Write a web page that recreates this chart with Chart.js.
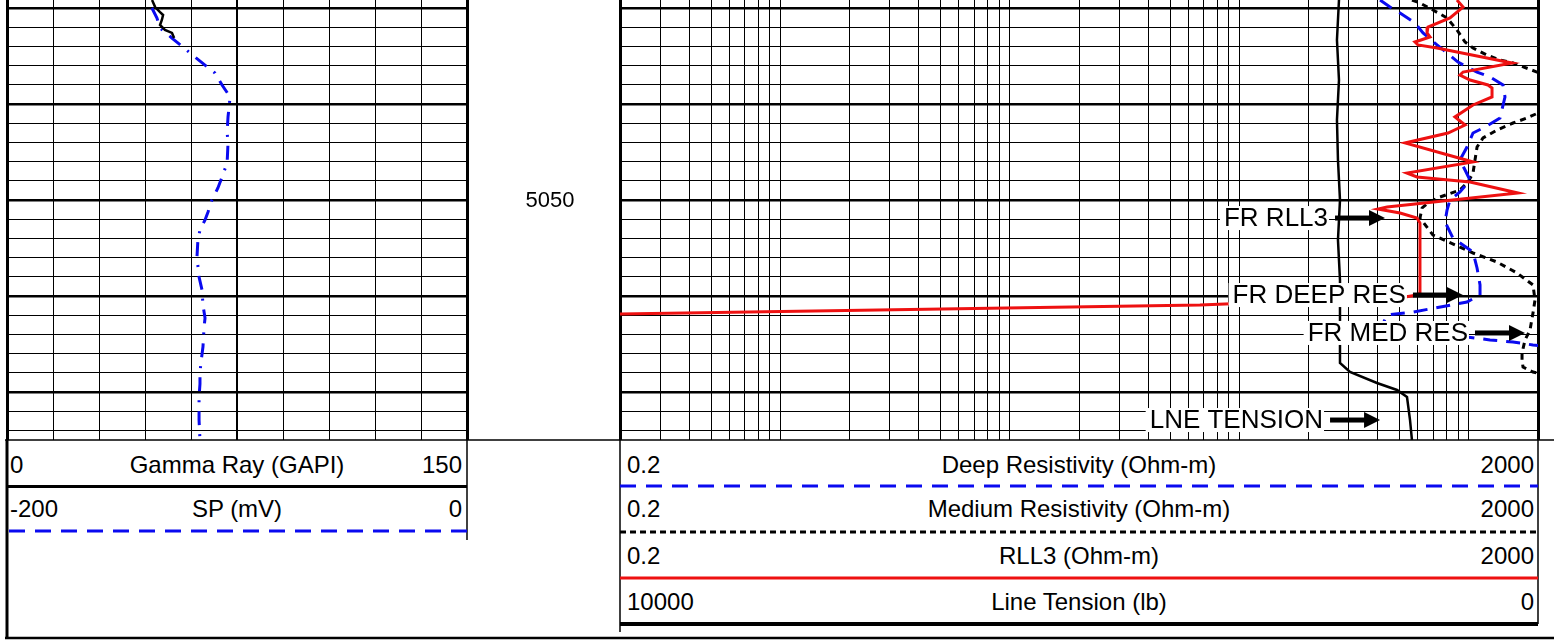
<!DOCTYPE html>
<html>
<head>
    <meta charset="UTF-8">
    <title>Log plot</title>
    <script src="https://cdn.jsdelivr.net/npm/chart.js@4.4.1/dist/chart.umd.min.js" type="text/javascript"></script>
    <style>
        body { margin: 0; background: #fff; }
        #page { position: relative; width: 1554px; height: 640px; overflow: hidden; font-family: "Liberation Sans", Arial, sans-serif; }
        .box { position: absolute; }
        .txt { position: absolute; font-size: 24px; line-height: 24px; color: #000; white-space: nowrap; }
        .c { text-align: center; }
    </style>
</head>
<body>
<div id="page">
    <svg class="box" style="left:0;top:0" width="1554" height="640">
        <line x1="5" y1="440" x2="1554" y2="440" stroke="#000" stroke-width="1.5" />
        <line x1="7" y1="440" x2="7" y2="639" stroke="#000" stroke-width="3" />
        <line x1="467" y1="440" x2="467" y2="540" stroke="#000" stroke-width="1.5" />
        <line x1="7" y1="486.5" x2="467" y2="486.5" stroke="#000" stroke-width="3" />
        <line x1="9" y1="531" x2="467" y2="531" stroke="#0a0af0" stroke-width="3" stroke-dasharray="16 10" />
        <line x1="5" y1="638" x2="1554" y2="638" stroke="#000" stroke-width="2.5" />
        <line x1="620" y1="440" x2="620" y2="632" stroke="#000" stroke-width="1.5" />
        <line x1="1538" y1="440" x2="1538" y2="624" stroke="#000" stroke-width="1.5" />
        <line x1="620" y1="486" x2="1538" y2="486" stroke="#0a0af0" stroke-width="3" stroke-dasharray="16 10" />
        <line x1="620" y1="532" x2="1538" y2="532" stroke="#000" stroke-width="3" stroke-dasharray="6 4" />
        <line x1="620" y1="578" x2="1538" y2="578" stroke="#ee1111" stroke-width="3" />
        <line x1="620" y1="624" x2="1538" y2="624" stroke="#000" stroke-width="4" />
    </svg>

    <div class="box" style="left:5px;top:0;width:615px;height:442px"><canvas id="leftTrack"></canvas></div>
    <div class="box" style="left:618px;top:0;width:922px;height:442px"><canvas id="rightTrack"></canvas></div>

    <div class="txt" style="left:10px;top:453px">0</div>
    <div class="txt c" style="left:87px;width:300px;top:453px">Gamma Ray (GAPI)</div>
    <div class="txt" style="right:1092px;top:453px">150</div>
    <div class="txt" style="left:10px;top:497px">-200</div>
    <div class="txt c" style="left:87px;width:300px;top:497px">SP (mV)</div>
    <div class="txt" style="right:1092px;top:497px">0</div>

    <div class="txt" style="left:627px;top:453px">0.2</div>
    <div class="txt c" style="left:879px;width:400px;top:453px">Deep Resistivity (Ohm-m)</div>
    <div class="txt" style="right:20px;top:453px">2000</div>
    <div class="txt" style="left:627px;top:497px">0.2</div>
    <div class="txt c" style="left:879px;width:400px;top:497px">Medium Resistivity (Ohm-m)</div>
    <div class="txt" style="right:20px;top:497px">2000</div>
    <div class="txt" style="left:627px;top:544px">0.2</div>
    <div class="txt c" style="left:879px;width:400px;top:544px">RLL3 (Ohm-m)</div>
    <div class="txt" style="right:20px;top:544px">2000</div>
    <div class="txt" style="left:627px;top:590px">10000</div>
    <div class="txt c" style="left:879px;width:400px;top:590px">Line Tension (lb)</div>
    <div class="txt" style="right:20px;top:590px">0</div>
</div>
<script>
    var grDepth = [5029.17, 5029.90, 5030.42, 5030.73, 5031.25, 5031.77, 5032.29, 5032.60, 5033.13];
    var grValue = [47.3, 48.3, 49.9, 50.9, 50.5, 49.9, 51.5, 53.8, 54.5];

    var spDepth = [5030.00, 5031.04, 5032.08, 5033.13, 5034.06, 5035.10, 5036.77, 5038.02, 5039.27, 5040.42,
                   5041.35, 5042.92, 5044.06, 5046.15, 5047.60, 5048.75, 5050.00, 5051.25, 5052.08, 5053.13,
                   5054.17, 5055.94, 5058.02, 5059.38, 5060.94, 5062.29, 5063.23, 5065.31, 5066.98, 5068.02,
                   5069.17, 5070.52, 5072.92, 5075.00];
    var spValue = [-137.0, -134.8, -133.5, -128.3, -123.5, -118.3, -109.6, -106.5, -103.0, -103.5,
                   -103.9, -104.3, -103.9, -104.3, -106.5, -108.3, -110.9, -112.6, -113.9, -116.1,
                   -117.0, -117.4, -116.5, -115.2, -114.8, -113.9, -114.3, -114.8, -115.7, -116.1,
                   -116.1, -116.5, -116.5, -116.1];

    var deepDepth = [5029.17, 5029.90, 5030.52, 5031.56, 5032.60, 5033.85, 5034.69, 5035.63, 5036.15, 5036.67,
                     5037.19, 5038.02, 5039.27, 5041.46, 5042.40, 5043.02, 5044.48, 5045.83, 5046.88, 5047.92,
                     5049.17, 5050.00, 5051.04, 5052.29, 5053.96, 5055.42, 5057.08, 5058.85, 5059.90, 5060.63,
                     5061.67, 5061.98, 5063.54, 5064.27, 5064.58, 5064.79, 5065.10, 5065.42];
    var deepValue = [410, 453, 501, 582, 631, 726, 803, 896, 981, 1085,
                     1236, 1408, 1436, 1366, 1175, 1042, 981, 914, 962, 1011,
                     914, 827, 803, 787, 852, 1042, 1085, 1118, 1118, 981,
                     571, 440, 410, 981, 1236, 1557, 1902, 2494];

    var medDepth = [5029.17, 5029.48, 5030.21, 5031.04, 5032.29, 5033.54, 5034.17, 5034.90, 5035.42, 5035.73,
                    5036.67, 5037.50, 5040.10, 5040.94, 5041.46, 5041.98, 5042.71, 5043.54, 5044.48, 5045.83,
                    5047.19, 5048.13, 5048.96, 5049.69, 5050.31, 5050.83, 5051.88, 5053.65, 5055.52, 5056.46,
                    5057.60, 5058.85, 5060.42, 5061.77, 5063.54, 5064.58, 5065.94, 5066.67, 5067.40, 5067.92,
                    5068.54];
    var medValue = [565, 612, 697, 803, 887, 962, 1042, 1199, 1366, 1557,
                    1980, 2600, 2600, 2000, 1792, 1557, 1326, 1152, 1085, 1063,
                    1042, 991, 914, 748, 663, 625, 612, 697, 1042, 1326,
                    1620, 1902, 1941, 1902, 1846, 1756, 1704, 1704, 1721, 1902,
                    2600];

    var rllDepth = [5029.17, 5029.90, 5031.04, 5031.98, 5032.60, 5033.02, 5033.54, 5033.85, 5034.17, 5035.63,
                    5035.73, 5036.67, 5036.98, 5037.50, 5038.02, 5038.33, 5039.27, 5040.10, 5041.35, 5042.19,
                    5043.02, 5044.06, 5046.04, 5047.19, 5047.60, 5048.13, 5049.27, 5050.73, 5050.94, 5051.35,
                    5051.88, 5052.40, 5058.85, 5059.69, 5059.90, 5060.10, 5060.83, 5060.94, 5061.88];
    var rllValue = [887, 943, 827, 663, 657, 677, 582, 600, 726, 1465,
                    1541, 943, 914, 1011, 1211, 1261, 1261, 1042, 869, 962,
                    811, 527, 1042, 537, 594, 1011, 1636, 440, 402, 501,
                    594, 612, 612, 612, 594, 527, 86.5, 67.3, 0.2];

    var tensDepth = [5029.17, 5033.33, 5037.50, 5041.67, 5045.83, 5050.00, 5054.17, 5058.33, 5062.50, 5066.98,
                     5067.92, 5069.06, 5069.79, 5070.52, 5072.92, 5075.00];
    var tensValue = [2168, 2190, 2168, 2190, 2179, 2157, 2179, 2157, 2157, 2157,
                     2048, 1754, 1536, 1427, 1394, 1373];

    var flagText = ["FR RLL3", "FR DEEP RES", "FR MED RES", "LNE TENSION"];
    var flagDepth = [5051.88, 5059.90, 5063.85, 5072.92];
    var flagTip = [431, 942, 1755, 410];

    var depthMarks = [5050];
    var resGrid = [0.2, 0.3, 0.4, 0.5, 0.6, 0.7, 0.8, 0.9, 1, 2, 3, 4, 5, 6, 7, 8, 9, 10, 20, 30, 40, 50, 60, 70, 80, 90,
                   100, 200, 300, 400, 500, 600, 700, 800, 900, 1000, 2000];

    var topDepth = 5029.1667;
    var bottomDepth = 5075;
    var depthGrid = [];
    for (var d = 5030; d <= 5074; d += 2) depthGrid.push(d);

    function pts(depths, values) {
        return depths.map(function (d, i) { return { x: values[i], y: d }; });
    }

    var FONT = '"Liberation Sans", Arial, sans-serif';
    var BLUE = '#0a0af0';
    var RED = '#ee1111';

    function depthAxis() {
        return {
            type: 'linear', reverse: true, min: topDepth, max: bottomDepth,
            ticks: { display: false },
            border: { display: false },
            grid: {
                color: '#000', drawTicks: false,
                lineWidth: function (c) { return c.tick && c.tick.value % 10 === 0 ? 2.5 : 1; }
            },
            afterBuildTicks: function (s) { s.ticks = depthGrid.map(function (v) { return { value: v }; }); },
            afterFit: function (s) { s.width = 0; }
        };
    }

    function hiddenAxis(min, max, rev) {
        return { type: 'linear', display: false, min: min, max: max, reverse: rev };
    }

    var depthLabelPlugin = {
        id: 'depthLabels',
        afterDraw: function (chart) {
            var ctx = chart.ctx, ys = chart.scales.y;
            ctx.save();
            ctx.font = '22px ' + FONT;
            ctx.fillStyle = '#000';
            ctx.textAlign = 'center';
            ctx.textBaseline = 'middle';
            depthMarks.forEach(function (d) {
                ctx.fillText(String(d), chart.chartArea.right + 83, ys.getPixelForValue(d) + 1);
            });
            ctx.restore();
        }
    };

    var flagPlugin = {
        id: 'flags',
        afterDatasetsDraw: function (chart) {
            var ctx = chart.ctx, xs = chart.scales.x, ys = chart.scales.y;
            ctx.save();
            ctx.font = '26px ' + FONT;
            ctx.textBaseline = 'middle';
            ctx.textAlign = 'right';
            for (var i = 0; i < flagText.length; i++) {
                var tip = xs.getPixelForValue(flagTip[i]);
                var y = ys.getPixelForValue(flagDepth[i]);
                var start = tip - 50;
                var right = start - 7;
                var w = ctx.measureText(flagText[i]).width;
                ctx.fillStyle = '#fff';
                ctx.fillRect(right - w - 4, y - 12, w + 5, 24);
                ctx.fillStyle = '#000';
                ctx.fillText(flagText[i], right, y + 1);
                ctx.fillRect(start, y - 2.5, 36, 5);
                ctx.beginPath();
                ctx.moveTo(start + 34, y - 8);
                ctx.lineTo(tip, y);
                ctx.lineTo(start + 34, y + 8);
                ctx.closePath();
                ctx.fill();
            }
            ctx.restore();
        }
    };

    var leftChart = new Chart(document.getElementById('leftTrack'), {
        type: 'scatter',
        data: {
            datasets: [{
                label: 'Gamma Ray',
                data: pts(grDepth, grValue),
                xAxisID: 'x',
                showLine: true, pointRadius: 0,
                borderColor: '#000', borderWidth: 2.5
            }, {
                label: 'SP',
                data: pts(spDepth, spValue),
                xAxisID: 'xSP',
                showLine: true, pointRadius: 0,
                borderColor: BLUE, borderWidth: 3,
                borderDash: [14, 9, 2, 9]
            }]
        },
        options: {
            responsive: true, maintainAspectRatio: false, animation: false,
            layout: { padding: { left: 2, right: 153, top: 0, bottom: 2 } },
            plugins: { legend: { display: false }, tooltip: { enabled: false } },
            scales: {
                x: {
                    type: 'linear', min: 0, max: 150,
                    ticks: { display: false, stepSize: 15 },
                    border: { display: false },
                    grid: {
                        color: '#000', drawTicks: false,
                        lineWidth: function (c) {
                            if (!c.tick) return 1;
                            if (c.tick.value === 0 || c.tick.value === 150) return 3;
                            return c.tick.value === 75 ? 2 : 1;
                        }
                    },
                    afterFit: function (s) { s.height = 0; }
                },
                xSP: hiddenAxis(-200, 0, false),
                y: depthAxis()
            }
        },
        plugins: [depthLabelPlugin]
    });

    var rightChart = new Chart(document.getElementById('rightTrack'), {
        type: 'scatter',
        data: {
            datasets: [{
                label: 'RLL3',
                data: pts(rllDepth, rllValue),
                xAxisID: 'x',
                showLine: true, pointRadius: 0,
                borderColor: RED, borderWidth: 3
            }, {
                label: 'Deep Resistivity',
                data: pts(deepDepth, deepValue),
                xAxisID: 'x',
                showLine: true, pointRadius: 0,
                borderColor: BLUE, borderWidth: 3,
                borderDash: [14, 9]
            }, {
                label: 'Medium Resistivity',
                data: pts(medDepth, medValue),
                xAxisID: 'x',
                showLine: true, pointRadius: 0,
                borderColor: '#000', borderWidth: 3,
                borderDash: [6, 5]
            }, {
                label: 'Line Tension',
                data: pts(tensDepth, tensValue),
                xAxisID: 'xT',
                showLine: true, pointRadius: 0,
                borderColor: '#000', borderWidth: 2.5
            }]
        },
        options: {
            responsive: true, maintainAspectRatio: false, animation: false,
            layout: { padding: { left: 2, right: 2, top: 0, bottom: 2 } },
            plugins: { legend: { display: false }, tooltip: { enabled: false } },
            scales: {
                x: {
                    type: 'logarithmic', min: 0.2, max: 2000,
                    ticks: { display: false },
                    border: { display: false },
                    grid: {
                        color: '#000', drawTicks: false,
                        lineWidth: function (c) {
                            if (!c.tick) return 1;
                            return (c.tick.value === 0.2 || c.tick.value === 2000) ? 3 : 1;
                        }
                    },
                    afterBuildTicks: function (s) { s.ticks = resGrid.map(function (v) { return { value: v }; }); },
                    afterFit: function (s) { s.height = 0; }
                },
                xT: hiddenAxis(0, 10000, true),
                y: depthAxis()
            }
        },
        plugins: [flagPlugin]
    });
</script>
</body>
</html>
